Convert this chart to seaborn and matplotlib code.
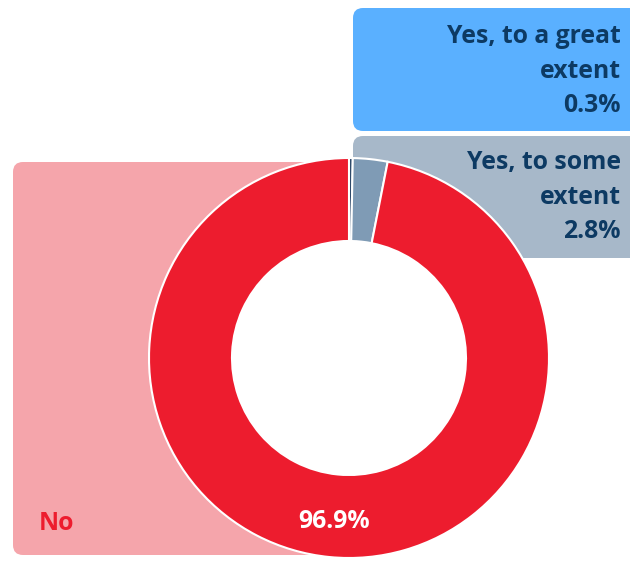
import matplotlib
matplotlib.use("Agg")
import matplotlib.pyplot as plt
from matplotlib.patches import FancyBboxPatch, Circle
import seaborn as sns

# Data
categories = ["Yes, to a great extent", "Yes, to some extent", "No"]
shares = [0.3, 2.8, 96.9]
slice_colors = ["#1c3a5e", "#7f9bb5", "#ed1c2e"]
box_colors = ["#5ab0ff", "#a7b8c9", "#f5a5ab"]
label_color = "#0d3a63"

sns.set_theme(style="white")
plt.rcParams["font.family"] = ["Open Sans", "DejaVu Sans"]

W, H = 630, 561
fig = plt.figure(figsize=(W / 100, H / 100), dpi=100)

# background axes in pixel coordinates for the label boxes
bg = fig.add_axes([0, 0, 1, 1], zorder=0)
bg.set_xlim(0, W)
bg.set_ylim(H, 0)
bg.axis("off")

boxes = [(353, 8, 300, 123), (353, 136, 300, 122), (13, 162, 340, 393)]
for (x, y, w, h), c in zip(boxes, box_colors):
    bg.add_patch(FancyBboxPatch((x, y), w, h, boxstyle="round,pad=0,rounding_size=10",
                                facecolor=c, edgecolor="none"))

# donut
ax = fig.add_axes([149 / W, (H - 558) / H, 400 / W, 400 / H], zorder=1)
ax.patch.set_alpha(0)
ax.pie(shares, colors=slice_colors, startangle=90, counterclock=False,
       radius=1.0, wedgeprops=dict(width=0.415, edgecolor="white", linewidth=1.5))
ax.add_patch(Circle((0, 0), 0.585, facecolor="white", edgecolor="none", zorder=0))
ax.set_xlim(-1, 1)
ax.set_ylim(-1, 1)
ax.set_aspect("equal")
ax.axis("off")

# text layer above the ring
txt = fig.add_axes([0, 0, 1, 1], zorder=2)
txt.set_xlim(0, W)
txt.set_ylim(H, 0)
txt.axis("off")

fs = 17.8
txt.text(621, 71, "Yes, to a great\nextent\n" + f"{shares[0]}%", ha="right", va="center",
         fontsize=fs, fontweight="bold", color=label_color, linespacing=1.5)
txt.text(621, 197, "Yes, to some\nextent\n" + f"{shares[1]}%", ha="right", va="center",
         fontsize=fs, fontweight="bold", color=label_color, linespacing=1.5)
txt.text(39, 524, categories[2], ha="left", va="center", fontsize=fs,
         fontweight="bold", color=slice_colors[2])
txt.text(334, 521, f"{shares[2]}%", ha="center", va="center", fontsize=fs,
         fontweight="bold", color="white")

fig.savefig("out.png", dpi=100)
